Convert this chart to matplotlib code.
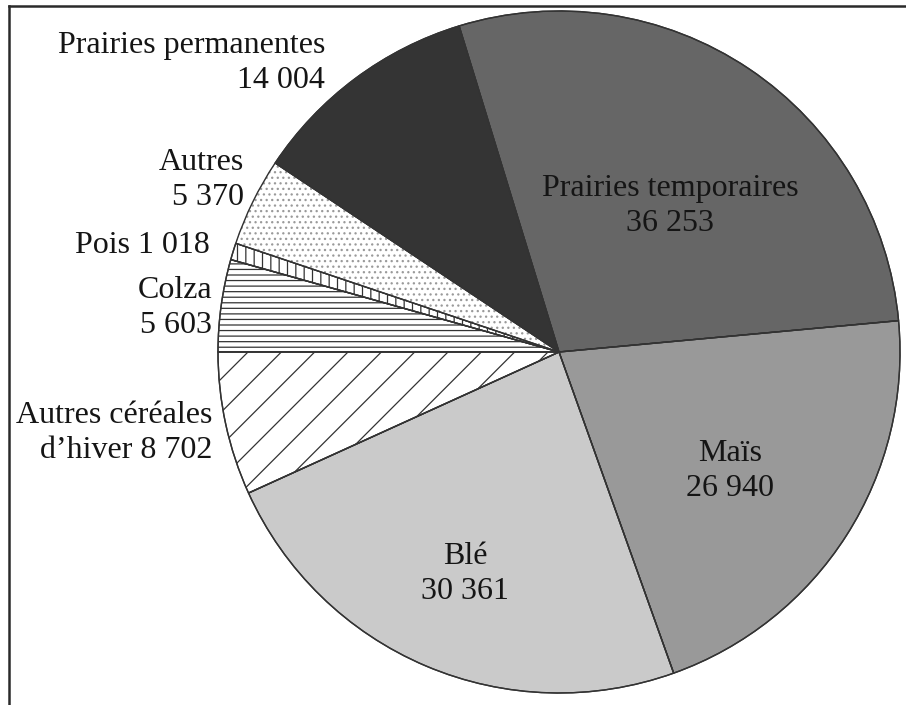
import matplotlib
matplotlib.use("Agg")
import matplotlib.pyplot as plt
from matplotlib.lines import Line2D

plt.rcParams['font.family'] = ['Liberation Serif', 'DejaVu Serif']
plt.rcParams['hatch.linewidth'] = 0.9

# surfaces (ha), clockwise from 9 o'clock
cultures = ['Colza', 'Pois', 'Autres', 'Prairies permanentes',
            'Prairies temporaires', 'Maïs', 'Blé', 'Autres céréales d’hiver']
surfaces = [5603, 1018, 5370, 14004, 36253, 26940, 30361, 8702]
etiquettes = ['Colza\n5 603', 'Pois 1 018', 'Autres\n5 370',
              'Prairies permanentes\n14 004', 'Prairies temporaires\n36 253',
              'Maïs\n26 940', 'Blé\n30 361', 'Autres céréales\nd’hiver 8 702']

couleurs = ['white', 'white', 'white', '#343434', '#666666', '#999999', '#cacaca', 'white']
hachures = ['---', '||', '...', None, None, None, None, '/']

W, H = 906, 705
cx, cy, R = 559, 352, 341  # pie centre and radius in pixels

fig = plt.figure(figsize=(W / 100, H / 100), dpi=100)
ax = fig.add_axes([0, 0, 1, 1])

wedges, _ = ax.pie(surfaces, startangle=180, counterclock=False,
                   colors=couleurs, radius=1,
                   wedgeprops=dict(edgecolor='#333333', linewidth=1.0))
for w, h in zip(wedges, hachures):
    if h:
        w.set_hatch(h)
    if h == '...':
        w.set_edgecolor('#9a9a9a')
        w.set_linewidth(0.4)
# outlines on top
ax.pie(surfaces, startangle=180, counterclock=False, radius=1,
       wedgeprops=dict(facecolor='none', edgecolor='#333333', linewidth=1.0))

ax.set_aspect('auto')
ax.set_xlim(-cx / R, (W - cx) / R)
ax.set_ylim((cy - H) / R, cy / R)
ax.axis('off')


def px(x, y):
    return (x - cx) / R, (cy - y) / R


# label anchors in pixels: (x, y, ha)
positions = [(212, 308, 'right'), (210, 246, 'right'), (244, 180, 'right'),
             (325, 63, 'right'), (670, 206, 'center'), (730, 471, 'center'),
             (465, 574, 'center'), (212, 433, 'right')]
for txt, (x, y, ha) in zip(etiquettes, positions):
    ax.text(*px(x, y), txt, ha=ha, va='center', multialignment=ha,
            fontsize=23, color='#151515', linespacing=1.3)

# partial frame (top and left)
lx, ty = 9 / W, 1 - 6 / H
fig.add_artist(Line2D([lx, lx], [0, ty], transform=fig.transFigure,
                      color='#2a2a2a', linewidth=1.8))
fig.add_artist(Line2D([lx, 1], [ty, ty], transform=fig.transFigure,
                      color='#2a2a2a', linewidth=1.8))

fig.savefig('out.png', dpi=100)
